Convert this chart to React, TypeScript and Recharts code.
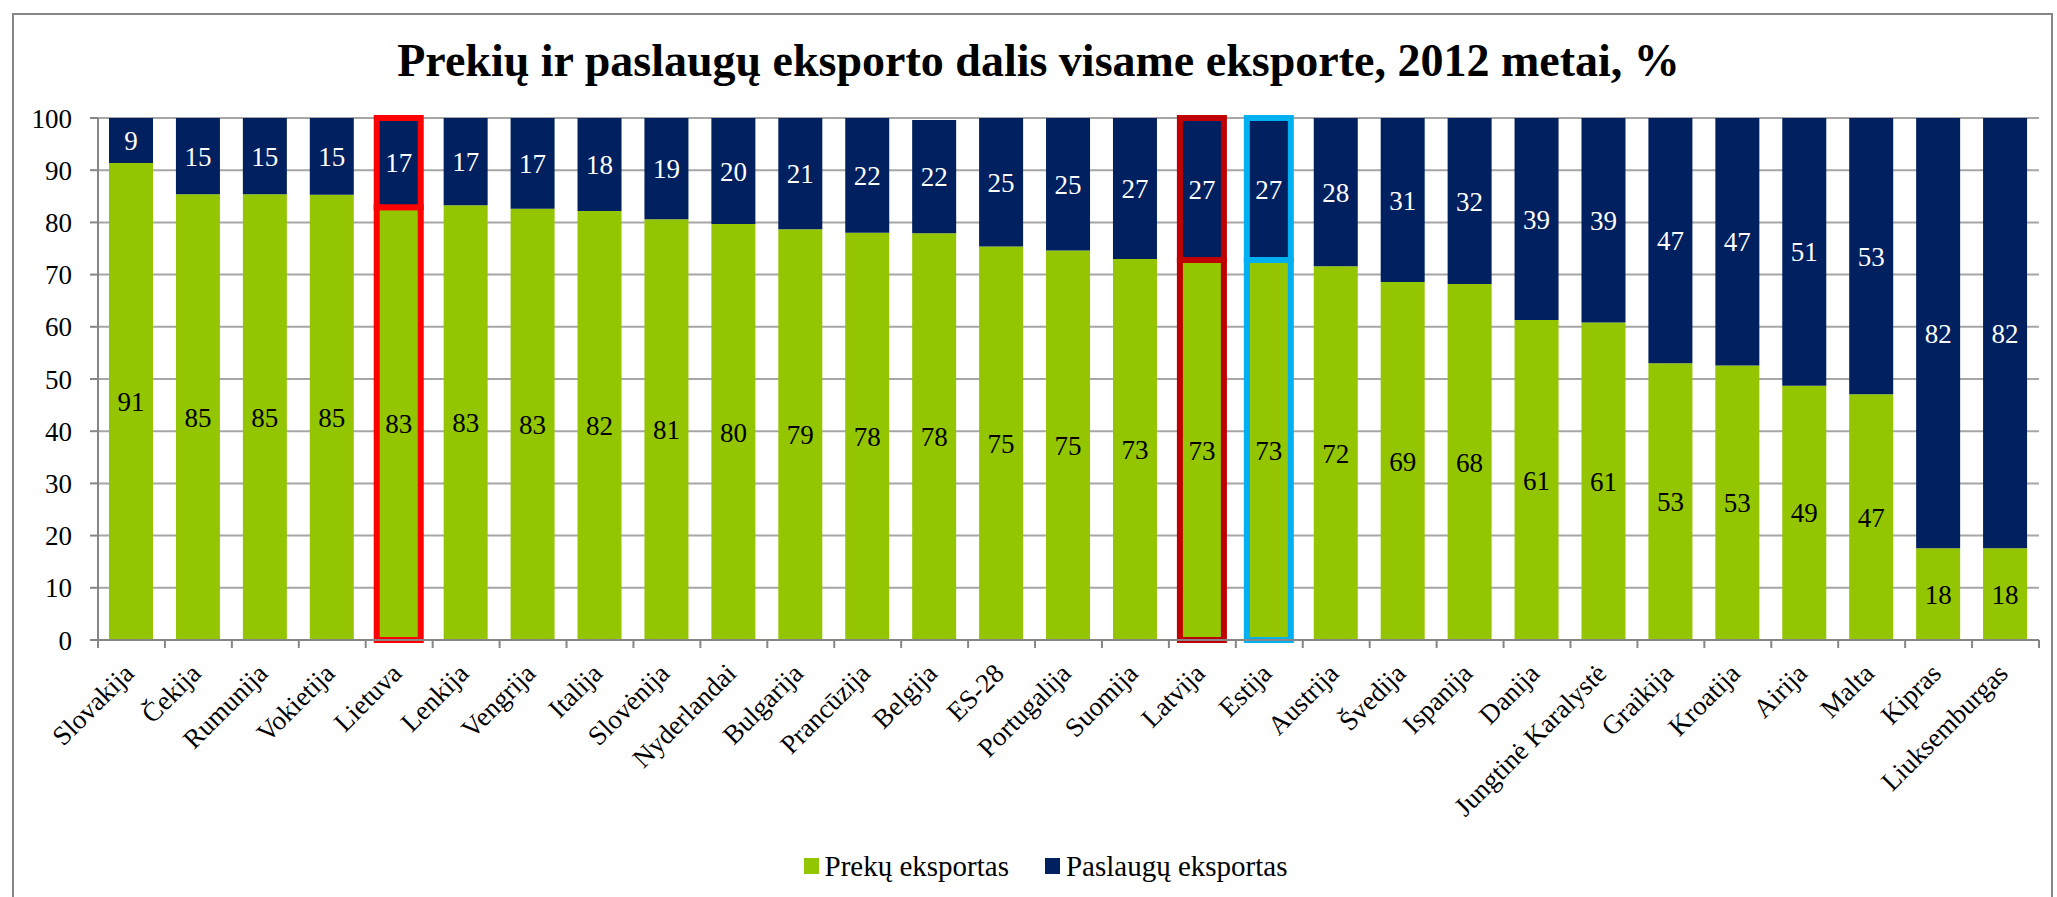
import React from 'react';
import { BarChart, Bar, XAxis, YAxis, CartesianGrid, Legend, LabelList, Cell } from 'recharts';

// Prekių ir paslaugų eksporto dalis, 2012, %
const categories = [
  'Slovakija', 'Čekija', 'Rumunija', 'Vokietija', 'Lietuva', 'Lenkija', 'Vengrija', 'Italija',
  'Slovėnija', 'Nyderlandai', 'Bulgarija', 'Prancūzija', 'Belgija', 'ES-28', 'Portugalija',
  'Suomija', 'Latvija', 'Estija', 'Austrija', 'Švedija', 'Ispanija', 'Danija',
  'Jungtinė Karalystė', 'Graikija', 'Kroatija', 'Airija', 'Malta', 'Kipras', 'Liuksemburgas',
];
const goodsExport = [
  91.4, 85.4, 85.4, 85.3, 82.9, 83.3, 82.6, 82.2, 80.6, 79.7, 78.7, 78.0, 77.9, 75.4, 74.6,
  73.0, 72.8, 72.8, 71.6, 68.6, 68.2, 61.3, 60.8, 53.0, 52.6, 48.7, 47.1, 17.6, 17.6,
];
const servicesExport = [
  8.6, 14.6, 14.6, 14.7, 17.1, 16.7, 17.4, 17.8, 19.4, 20.3, 21.3, 22.0, 21.7, 24.6, 25.4,
  27.0, 27.2, 27.2, 28.4, 31.4, 31.8, 38.7, 39.2, 47.0, 47.4, 51.3, 52.9, 82.4, 82.4,
];
const yTicks = [0, 10, 20, 30, 40, 50, 60, 70, 80, 90, 100];
const highlighted: Record<string, string> = {
  Lietuva: '#FF0000',
  Latvija: '#C00000',
  Estija: '#00B0F0',
};

const W = 2057;
const H = 897;
const MARGIN = { top: 118, right: 18, left: 38, bottom: 14 };
const Y_AXIS_W = 60;
const BAND = (W - MARGIN.left - MARGIN.right - Y_AXIS_W) / categories.length;

const GREEN = '#93C500';
const NAVY = '#002060';
const AXIS = '#868686';
const GRID = '#A6A6A6';
const FONT = '"Liberation Serif", Cambria, serif';
const FS = 27;

const data = categories.map((name, i) => ({
  name,
  goods: goodsExport[i],
  services: servicesExport[i],
}));

const CategoryTick = (props: any) => {
  const { x, y, payload, index } = props;
  const last = index === categories.length - 1;
  return (
    <g transform={`translate(${x},${y})`}>
      <line x1={-BAND / 2} y1={0} x2={-BAND / 2} y2={8} stroke={AXIS} strokeWidth={2} />
      {last && <line x1={BAND / 2} y1={0} x2={BAND / 2} y2={8} stroke={AXIS} strokeWidth={2} />}
      <text
        x={0}
        y={0}
        transform="translate(4,35) rotate(-45)"
        textAnchor="end"
        fontFamily={FONT}
        fontSize={FS}
        fill="#000"
      >
        {payload.value}
      </text>
    </g>
  );
};

const renderLegend = () => (
  <div
    style={{
      display: 'flex',
      justifyContent: 'center',
      alignItems: 'center',
      height: 34,
      paddingLeft: 14,
      fontFamily: FONT,
      fontSize: 29,
      gap: 36,
    }}
  >
    {[
      ['Prekų eksportas', GREEN],
      ['Paslaugų eksportas', NAVY],
    ].map(([label, color]) => (
      <div key={label} style={{ display: 'flex', alignItems: 'center', gap: 6 }}>
        <span style={{ width: 15, height: 16, background: color, display: 'inline-block' }} />
        <span>{label}</span>
      </div>
    ))}
  </div>
);

const round = (v: any) => Math.round(Number(v));

export default function App() {
  return (
    <div
      style={{
        position: 'fixed',
        left: 0,
        top: 0,
        width: W,
        height: H,
        overflow: 'hidden',
        background: '#fff',
      }}
    >
      <div
        style={{
          position: 'absolute',
          left: 12,
          top: 13,
          width: W - 16,
          height: H + 40,
          border: `2px solid ${AXIS}`,
          boxSizing: 'border-box',
        }}
      />
      <div
        style={{
          position: 'absolute',
          top: 33,
          left: 10,
          width: W,
          textAlign: 'center',
          fontFamily: FONT,
          fontWeight: 'bold',
          fontSize: 46,
          lineHeight: '56px',
        }}
      >
        Prekių ir paslaugų eksporto dalis visame eksporte, 2012 metai, %
      </div>
      <BarChart width={W} height={H} data={data} margin={MARGIN} barSize={44}>
        <CartesianGrid vertical={false} stroke={GRID} strokeWidth={2} />
        <XAxis
          dataKey="name"
          interval={0}
          height={209}
          tickSize={0}
          tickMargin={0}
          tickLine={false}
          axisLine={{ stroke: AXIS, strokeWidth: 2 }}
          tick={<CategoryTick />}
        />
        <YAxis
          width={Y_AXIS_W}
          domain={[0, 100]}
          ticks={yTicks}
          interval={0}
          tickSize={8}
          tickMargin={18}
          tickLine={{ stroke: AXIS, strokeWidth: 2 }}
          axisLine={{ stroke: AXIS, strokeWidth: 2 }}
          tick={{ fill: '#000', fontFamily: FONT, fontSize: FS }}
        />
        <Legend verticalAlign="bottom" content={renderLegend} />
        <Bar dataKey="goods" stackId="a" fill={GREEN} isAnimationActive={false}>
          {data.map((d) => (
            <Cell
              key={d.name}
              stroke={highlighted[d.name] || 'none'}
              strokeWidth={highlighted[d.name] ? 6 : 0}
            />
          ))}
          <LabelList
            dataKey="goods"
            position="center"
            formatter={round}
            fill="#000"
            fontFamily={FONT}
            fontSize={FS}
          />
        </Bar>
        <Bar dataKey="services" stackId="a" fill={NAVY} isAnimationActive={false}>
          {data.map((d) => (
            <Cell
              key={d.name}
              stroke={highlighted[d.name] || 'none'}
              strokeWidth={highlighted[d.name] ? 6 : 0}
            />
          ))}
          <LabelList
            dataKey="services"
            position="center"
            formatter={round}
            fill="#fff"
            fontFamily={FONT}
            fontSize={FS}
          />
        </Bar>
      </BarChart>
    </div>
  );
}
